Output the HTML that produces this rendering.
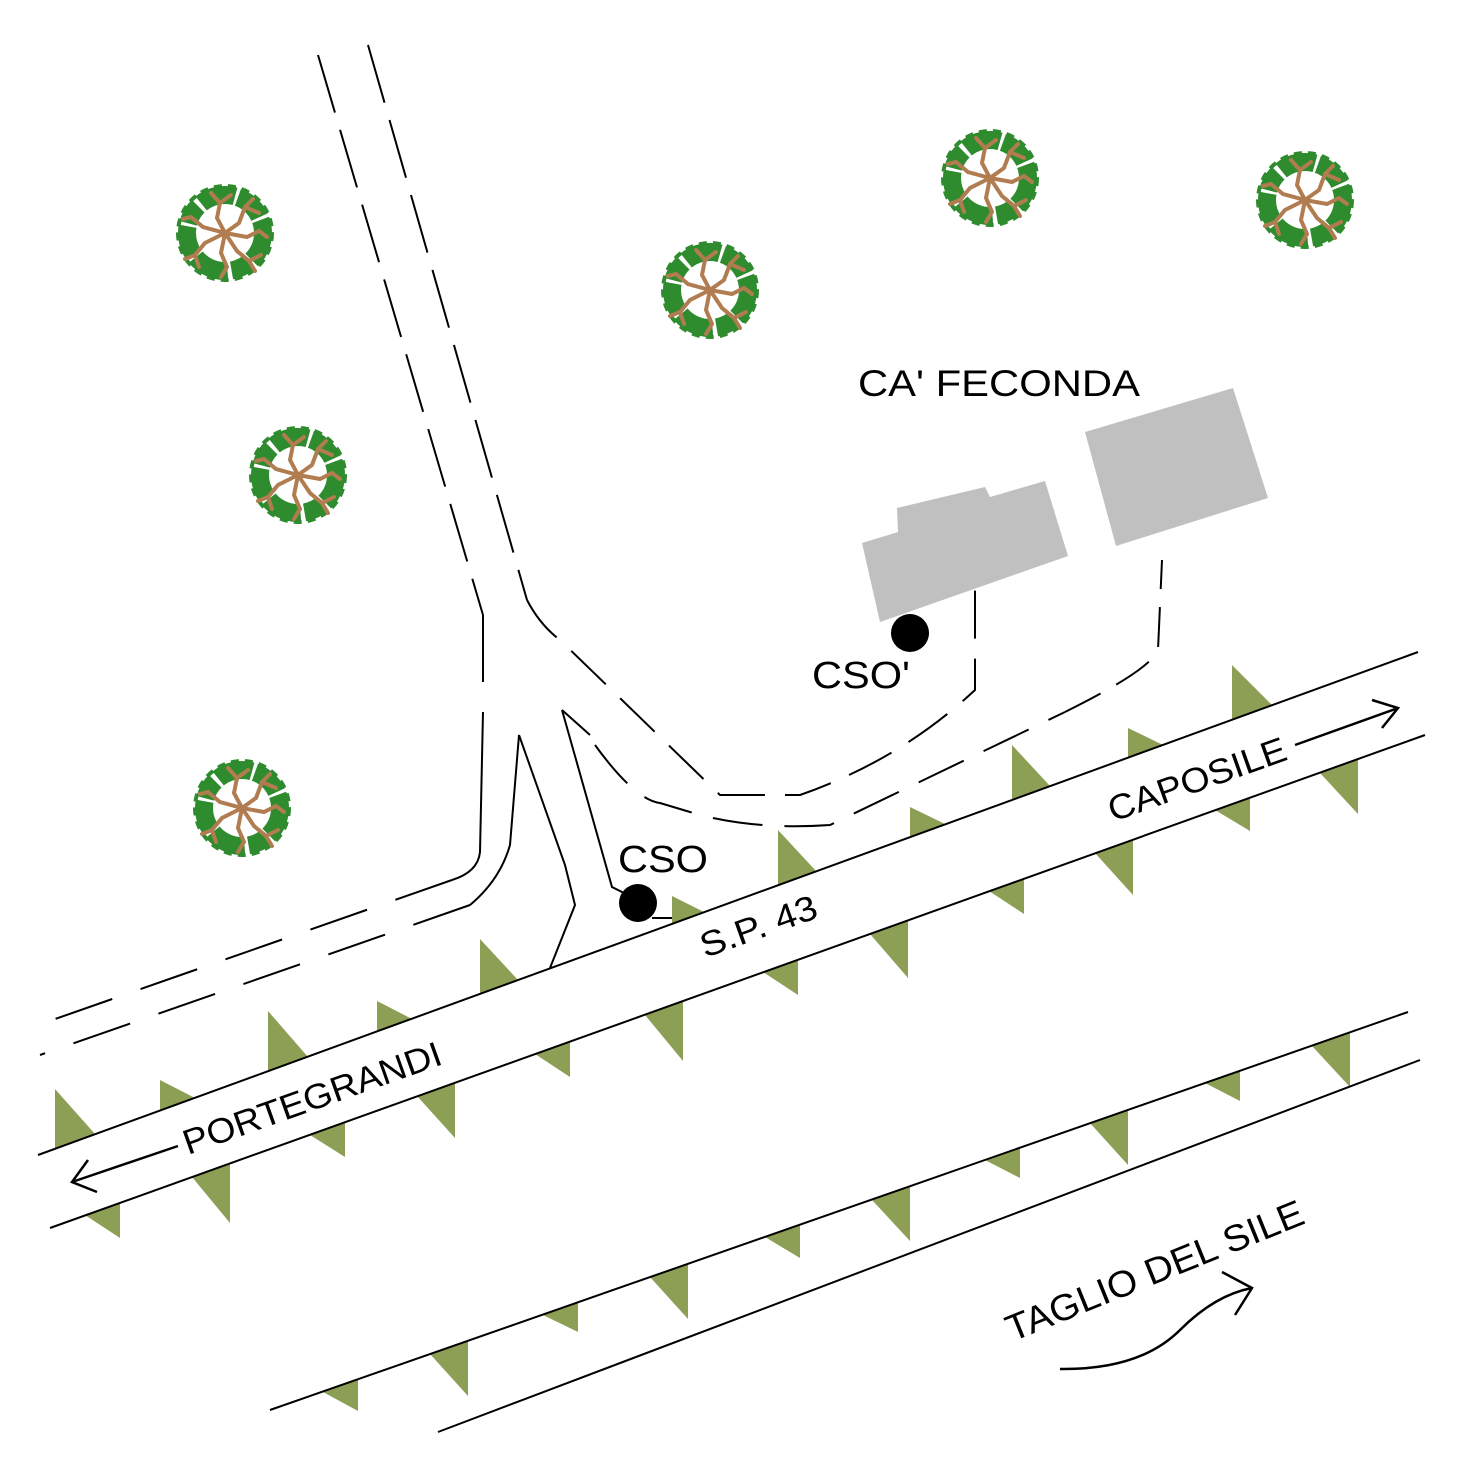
<!DOCTYPE html>
<html><head><meta charset="utf-8"><style>html,body{margin:0;padding:0;background:#fff}svg{display:block}</style></head>
<body>
<svg width="1466" height="1466" viewBox="0 0 1466 1466" xmlns="http://www.w3.org/2000/svg">
<defs>
<g id="tree">
<circle r="38" fill="none" stroke="#2e8b2e" stroke-width="18" stroke-dasharray="30 3 20 4 36 3"/>
<circle r="47" fill="none" stroke="#2e8b2e" stroke-width="4" stroke-dasharray="8 6"/>
<g stroke="#b07c50" stroke-width="4" fill="none" stroke-linecap="round">
<path d="M0 0 L-8 -15 L-5 -30 L-14 -40"/>
<path d="M0 0 L14 -10 L20 -26 L28 -34"/>
<path d="M0 0 L22 4 L34 -2 L42 4"/>
<path d="M0 0 L12 18 L24 28 L30 38"/>
<path d="M0 0 L-4 20 L2 34 L-4 44"/>
<path d="M0 0 L-20 10 L-30 22 L-40 26"/>
<path d="M0 0 L-22 -6 L-34 -16 L-42 -14"/>
<path d="M-5 -30 L6 -38"/><path d="M20 -26 L34 -20"/><path d="M-30 22 L-26 34"/><path d="M24 28 L36 22"/>
</g>
</g>
</defs>

<g fill="#8c9f55">
<polygon points="55,1089 55,1149 95,1134"/>
<polygon points="160,1080 160,1110 195,1098"/>
<polygon points="268,1011 268,1071 308,1057"/>
<polygon points="377,1001 377,1031 412,1019"/>
<polygon points="480,939 480,994 518,980"/>
<polygon points="672,896 672,924 704,912"/>
<polygon points="778,830 778,885 816,871"/>
<polygon points="910,807 910,837 945,824"/>
<polygon points="1012,745 1012,800 1050,786"/>
<polygon points="1128,728 1128,758 1163,745"/>
<polygon points="1232,665 1232,720 1272,705"/>

<polygon points="85,1215 120,1203 120,1238"/>
<polygon points="192,1177 230,1163 230,1223"/>
<polygon points="310,1135 345,1122 345,1157"/>
<polygon points="417,1096 455,1083 455,1138"/>
<polygon points="535,1054 570,1042 570,1077"/>
<polygon points="645,1015 683,1001 683,1061"/>
<polygon points="763,972 798,960 798,995"/>
<polygon points="870,934 908,920 908,978"/>
<polygon points="989,891 1024,879 1024,914"/>
<polygon points="1095,853 1133,840 1133,895"/>
<polygon points="1215,810 1250,798 1250,831"/>
<polygon points="1320,773 1358,759 1358,814"/>

<polygon points="323,1392 358,1379 358,1411"/>
<polygon points="430,1354 468,1341 468,1396"/>
<polygon points="543,1315 578,1302 578,1332"/>
<polygon points="650,1277 688,1264 688,1319"/>
<polygon points="765,1237 800,1225 800,1258"/>
<polygon points="872,1200 910,1186 910,1241"/>
<polygon points="985,1160 1020,1148 1020,1178"/>
<polygon points="1090,1123 1128,1110 1128,1165"/>
<polygon points="1205,1083 1240,1071 1240,1101"/>
<polygon points="1312,1046 1350,1032 1350,1087"/>
</g>

<g stroke="#000" stroke-width="2" fill="none">
<line x1="38" y1="1155" x2="1418" y2="652"/>
<line x1="50" y1="1228" x2="1425" y2="735"/>
<line x1="270" y1="1410" x2="1408" y2="1012"/>
<line x1="438" y1="1432" x2="1420" y2="1060"/>
</g>

<g fill="#c0c0c0">
<polygon points="862,543 898,532 897,508 985,487 990,497 1045,481 1068,556 880,622"/>
<polygon points="1085,432 1233,388 1268,498 1116,546"/>
</g>

<g stroke="#000" stroke-width="2" fill="none">
<path d="M318 55 L483 615" stroke-dasharray="60 18"/>
<path d="M368 45 L527 600" stroke-dasharray="60 18"/>
<path d="M483 615 L483 682"/>
<path d="M483 712 L480 852 Q478 872 452 880"/>
<path d="M452 880 L38 1025" stroke-dasharray="60 30"/>
<path d="M519 735 L510 845 Q500 880 470 905"/>
<path d="M470 905 L40 1055" stroke-dasharray="60 30"/>
<path d="M519 735 L565 865 L575 905 L550 968"/>
<path d="M562 710 L612 887 L624 893"/>
<path d="M652 918 L672 918"/>
<path d="M562 710 L590 735"/>
<path d="M595 745 Q635 800 660 803 L700 815 Q760 830 830 825 L1065 712" stroke-dasharray="50 22"/>
<path d="M1065 712 Q1150 670 1158 650 L1162 560" stroke-dasharray="40 18"/>
<path d="M527 600 Q540 625 560 640 L720 795 L800 795 Q900 760 975 690 L975 588" stroke-dasharray="48 20"/>
</g>

<circle cx="638" cy="903" r="19" fill="#000"/>
<circle cx="910" cy="633" r="19" fill="#000"/>

<use href="#tree" x="225" y="233"/>
<use href="#tree" x="710" y="290"/>
<use href="#tree" x="990" y="178"/>
<use href="#tree" x="1305" y="200"/>
<use href="#tree" x="298" y="475"/>
<use href="#tree" x="242" y="808"/>

<g font-family="Liberation Sans, sans-serif" fill="#000">
<text x="858" y="396" font-size="37" textLength="282" lengthAdjust="spacingAndGlyphs">CA' FECONDA</text>
<text x="812" y="688" font-size="38" textLength="98" lengthAdjust="spacingAndGlyphs">CSO'</text>
<text x="618" y="872" font-size="38" textLength="90" lengthAdjust="spacingAndGlyphs">CSO</text>
<text x="0" y="0" font-size="35" textLength="122" lengthAdjust="spacingAndGlyphs" transform="translate(705,958) rotate(-19.6)">S.P. 43</text>
<text x="0" y="0" font-size="35" textLength="187" lengthAdjust="spacingAndGlyphs" transform="translate(1113,822) rotate(-19.6)">CAPOSILE</text>
<text x="0" y="0" font-size="35" textLength="272" lengthAdjust="spacingAndGlyphs" transform="translate(188,1155) rotate(-19.6)">PORTEGRANDI</text>
<text x="0" y="0" font-size="37" textLength="318" lengthAdjust="spacingAndGlyphs" transform="translate(1012,1342) rotate(-22)">TAGLIO DEL SILE</text>
</g>

<g stroke="#000" stroke-width="2.5" fill="none">
<path d="M178 1146 L72 1182 M88 1160 L72 1182 L97 1192"/>
<path d="M1295 745 L1398 708 M1372 700 L1398 708 L1382 728"/>
<path d="M1060 1369 Q1140 1370 1180 1330 Q1215 1295 1252 1288 M1222 1272 L1252 1288 L1235 1315"/>
</g>
</svg>
</body></html>
